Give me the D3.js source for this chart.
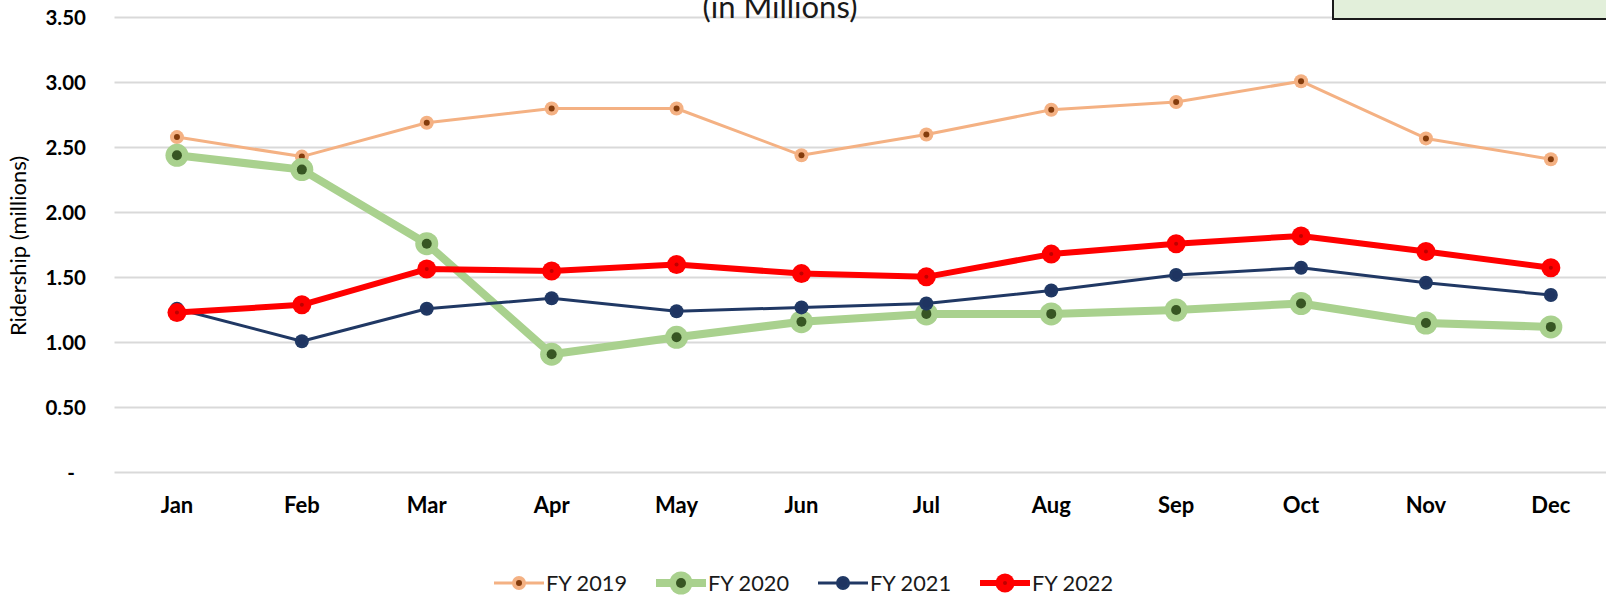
<!DOCTYPE html>
<html>
<head>
<meta charset="utf-8">
<script src="https://cdn.jsdelivr.net/npm/d3@7"></script>
<style>
  body { margin: 0; background: #fff; }
  svg { display: block; font-family: Lato, "Noto Sans", sans-serif; }
</style>
</head>
<body>
<div id="chart"></div>
<script>
// data
const months = ["Jan", "Feb", "Mar", "Apr", "May", "Jun", "Jul", "Aug", "Sep", "Oct", "Nov", "Dec"];
const fy2019 = [2.58, 2.43, 2.69, 2.80, 2.80, 2.44, 2.60, 2.79, 2.85, 3.01, 2.57, 2.41];
const fy2020 = [2.44, 2.33, 1.76, 0.91, 1.04, 1.16, 1.22, 1.22, 1.25, 1.30, 1.15, 1.12];
const fy2021 = [1.26, 1.01, 1.26, 1.34, 1.24, 1.27, 1.30, 1.40, 1.52, 1.575, 1.46, 1.365];
const fy2022 = [1.23, 1.29, 1.565, 1.55, 1.60, 1.53, 1.505, 1.68, 1.76, 1.82, 1.70, 1.575];
const yTicks = [0, 0.5, 1, 1.5, 2, 2.5, 3, 3.5];

const series = [
    { name: "FY 2019", values: fy2019, line: "#f4b183", lw: 3, r: 7, inner: "#843c0c", ir: 3 },
    { name: "FY 2020", values: fy2020, line: "#a9d18e", lw: 8, r: 11.5, inner: "#375623", ir: 5 },
    { name: "FY 2021", values: fy2021, line: "#203864", lw: 3, r: 7, inner: "#1f3461", ir: 4 },
    { name: "FY 2022", values: fy2022, line: "#ff0000", lw: 6, r: 9.5, inner: "#c00000", ir: 2 }
];

const W = 1606, H = 597;
const svg = d3.select("#chart").append("svg").attr("width", W).attr("height", H);

const left = 114.5, step = 124.9;
const x = d3.scaleBand().domain(months).range([left, left + step * 12]).padding(0);
const y = d3.scaleLinear().domain([0, 3.5]).range([472.5, 17.5]);
const cx = m => x(m) + x.bandwidth() / 2;

// gridlines
svg.append("g").selectAll("line").data(yTicks).enter().append("line")
    .attr("x1", left).attr("x2", W)
    .attr("y1", d => y(d)).attr("y2", d => y(d))
    .attr("stroke", "#d9d9d9").attr("stroke-width", 2);

// y tick labels
svg.append("g").selectAll("text").data(yTicks).enter().append("text")
    .attr("x", d => d === 0 ? 75 : 86)
    .attr("y", d => y(d) + 7)
    .attr("text-anchor", "end")
    .attr("font-size", 20.5).attr("font-weight", "bold").attr("fill", "#000")
    .text(d => d === 0 ? "-" : d3.format(".2f")(d));

// x labels
svg.append("g").selectAll("text").data(months).enter().append("text")
    .attr("x", d => cx(d)).attr("y", 513)
    .attr("text-anchor", "middle")
    .attr("font-size", 22).attr("font-weight", "bold").attr("fill", "#000")
    .text(d => d);

// y axis title
svg.append("text")
    .attr("transform", "translate(26,246) rotate(-90)")
    .attr("text-anchor", "middle")
    .attr("font-size", 22).attr("fill", "#000")
    .text("Ridership (millions)");

// title, cut at top like the source
svg.append("text")
    .attr("x", 780).attr("y", 18)
    .attr("text-anchor", "middle")
    .attr("font-size", 31).attr("fill", "#1a1a1a")
    .text("(in Millions)");

// green box top right (cut)
svg.append("rect")
    .attr("x", 1333).attr("y", -10).attr("width", 300).attr("height", 29)
    .attr("fill", "#e2efda").attr("stroke", "#1a1a1a").attr("stroke-width", 2);

// lines + markers
const line = d3.line().x((d, i) => cx(months[i])).y(d => y(d));

series.forEach(s => {
    const g = svg.append("g");
    g.append("path").datum(s.values)
        .attr("d", line).attr("fill", "none")
        .attr("stroke", s.line).attr("stroke-width", s.lw)
        .attr("stroke-linejoin", "round");
    g.selectAll("circle.o").data(s.values).enter().append("circle")
        .attr("cx", (d, i) => cx(months[i])).attr("cy", d => y(d))
        .attr("r", s.r).attr("fill", s.line);
    g.selectAll("circle.i").data(s.values).enter().append("circle")
        .attr("cx", (d, i) => cx(months[i])).attr("cy", d => y(d))
        .attr("r", s.ir).attr("fill", s.inner);
});

// legend
const lg = svg.append("g");
series.forEach((s, k) => {
    const x0 = 494 + k * 162, ly = 583;
    lg.append("line").attr("x1", x0).attr("x2", x0 + 50).attr("y1", ly).attr("y2", ly)
        .attr("stroke", s.line).attr("stroke-width", s.lw);
    lg.append("circle").attr("cx", x0 + 25).attr("cy", ly).attr("r", s.r).attr("fill", s.line);
    lg.append("circle").attr("cx", x0 + 25).attr("cy", ly).attr("r", s.ir).attr("fill", s.inner);
    lg.append("text").attr("x", x0 + 52).attr("y", ly + 8)
        .attr("font-size", 22).attr("fill", "#1a1a1a")
        .attr("textLength", 81).attr("lengthAdjust", "spacingAndGlyphs")
        .text(s.name);
});
</script>
</body>
</html>
